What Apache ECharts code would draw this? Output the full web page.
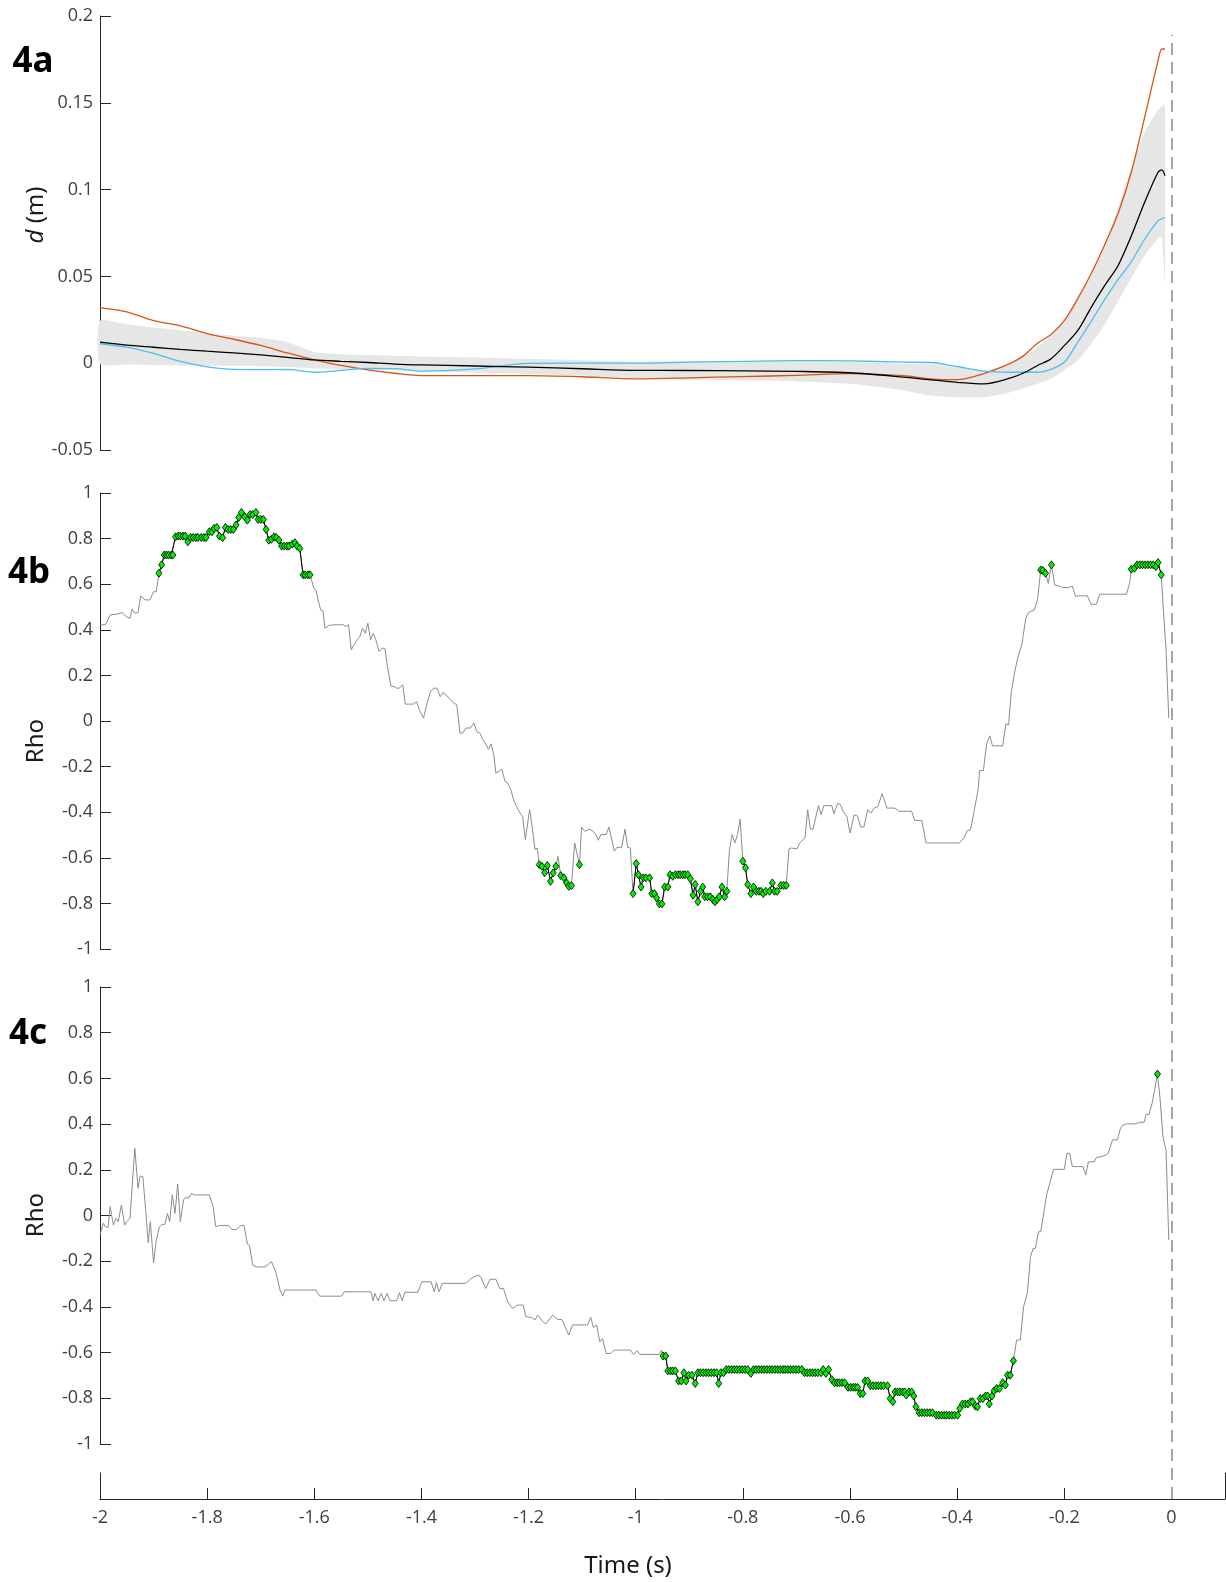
<!DOCTYPE html>
<html lang="en">
<head>
<meta charset="UTF-8">
<title>Figure 4</title>
<script src="https://cdn.jsdelivr.net/npm/echarts@6/dist/echarts.min.js"></script>
<style>
    html, body { margin: 0; padding: 0; background: #fff; }
    #chart { width: 1226px; height: 1582px; }
</style>
</head>
<body>
<div id="chart"></div>
<script>
// ---- 4a: distance d (m) ----
const timeA = [-2, -1.95, -1.9, -1.85, -1.8, -1.75, -1.7, -1.65, -1.6, -1.55, -1.5, -1.45, -1.4, -1.3, -1.2, -1.1, -1.0,
    -0.9, -0.8, -0.7, -0.6, -0.5, -0.45, -0.4, -0.35, -0.3, -0.275, -0.25, -0.225, -0.2, -0.175, -0.15, -0.125, -0.1, -0.075, -0.05, -0.025, -0.018, -0.012];
const dOrange = [0.032, 0.0295, 0.0245, 0.0215, 0.0171, 0.0138, 0.0102, 0.0059, 0.0019, -0.0013, -0.0039, -0.0058, -0.0071, -0.0071, -0.0071, -0.0078, -0.009,
    -0.0084, -0.0077, -0.007, -0.006, -0.0072, -0.009, -0.0095, -0.006, 0.0, 0.0045, 0.0115, 0.0165, 0.0245, 0.037, 0.0515, 0.068, 0.086, 0.11, 0.1416, 0.1743, 0.181, 0.181];
const dBlue = [0.0112, 0.0092, 0.0056, 0.001, -0.0021, -0.0036, -0.0037, -0.0036, -0.0052, -0.0041, -0.003, -0.0031, -0.0046, -0.0033, -0.0001, 0.0, 0.0,
    0.0006, 0.0011, 0.0015, 0.0013, 0.0006, 0.0004, -0.0019, -0.0046, -0.0052, -0.0052, -0.0052, -0.0035, 0.0005, 0.012, 0.024, 0.0365, 0.048, 0.0584, 0.0714, 0.0821, 0.0832, 0.0838];
const dMean = [0.0121, 0.0104, 0.0092, 0.008, 0.0069, 0.0059, 0.0048, 0.0034, 0.0019, 0.0011, 0.0004, -0.0005, -0.001, -0.0016, -0.0023, -0.0032, -0.0041,
    -0.0042, -0.0044, -0.0047, -0.0055, -0.008, -0.0096, -0.011, -0.0119, -0.0085, -0.0055, -0.0013, 0.0025, 0.0101, 0.0187, 0.032, 0.0445, 0.056, 0.0732, 0.0927, 0.11, 0.1114, 0.108];
const bandHigh = [0.0244, 0.0225, 0.0205, 0.019, 0.0172, 0.0158, 0.0146, 0.012, 0.0065, 0.0052, 0.0047, 0.0043, 0.0039, 0.0033, 0.0025, 0.0017, 0.0008,
    0.0012, 0.0012, 0.0011, 0.0009, -0.0003, -0.0006, -0.0024, -0.0042, -0.0003, 0.004, 0.0093, 0.016, 0.024, 0.039, 0.051, 0.068, 0.0893, 0.1125, 0.133, 0.146, 0.148, 0.149];
const bandLow = [-0.0004, -0.0008, -0.0012, -0.0014, -0.0015, -0.0016, -0.0017, -0.0022, -0.003, -0.0035, -0.0039, -0.0043, -0.0047, -0.0055, -0.0063, -0.0073, -0.0086,
    -0.0096, -0.01, -0.0105, -0.0119, -0.0157, -0.0186, -0.0196, -0.0196, -0.0167, -0.0145, -0.0119, -0.009, -0.004, 0.0015, 0.011, 0.022, 0.0355, 0.049, 0.062, 0.072, 0.0726, 0.046];

// ---- 4b: Rho [time, rho] ----
const rhoB = [
    [-2.000, 0.422], [-1.990, 0.422], [-1.981, 0.465], [-1.970, 0.468], [-1.959, 0.475], [-1.951, 0.458], [-1.944, 0.450], [-1.940, 0.490],
    [-1.935, 0.473], [-1.929, 0.475], [-1.924, 0.549], [-1.916, 0.531], [-1.907, 0.531], [-1.900, 0.567], [-1.895, 0.567],
    [-1.890, 0.648], [-1.885, 0.685], [-1.880, 0.728], [-1.876, 0.728], [-1.872, 0.728], [-1.867, 0.728], [-1.864, 0.728], [-1.859, 0.808],
    [-1.854, 0.811], [-1.850, 0.811], [-1.845, 0.811], [-1.841, 0.811], [-1.836, 0.786], [-1.831, 0.805], [-1.826, 0.805], [-1.821, 0.805],
    [-1.817, 0.805], [-1.811, 0.805], [-1.806, 0.805], [-1.802, 0.805], [-1.796, 0.830], [-1.791, 0.830], [-1.787, 0.845], [-1.782, 0.849],
    [-1.777, 0.811], [-1.771, 0.804], [-1.766, 0.849], [-1.761, 0.840], [-1.756, 0.840], [-1.751, 0.840], [-1.746, 0.860], [-1.741, 0.893],
    [-1.736, 0.915], [-1.730, 0.896], [-1.725, 0.881], [-1.720, 0.906], [-1.715, 0.906], [-1.709, 0.915], [-1.705, 0.884], [-1.700, 0.884],
    [-1.695, 0.884], [-1.690, 0.840], [-1.685, 0.793], [-1.680, 0.797], [-1.675, 0.808], [-1.671, 0.805], [-1.666, 0.793], [-1.661, 0.767],
    [-1.656, 0.767], [-1.651, 0.767], [-1.647, 0.767], [-1.641, 0.776], [-1.636, 0.782], [-1.632, 0.767], [-1.627, 0.757], [-1.621, 0.641],
    [-1.617, 0.641], [-1.612, 0.641], [-1.608, 0.641],
    [-1.605, 0.618], [-1.601, 0.582], [-1.597, 0.575], [-1.593, 0.531], [-1.588, 0.487], [-1.584, 0.484], [-1.580, 0.407], [-1.573, 0.419],
    [-1.564, 0.422], [-1.546, 0.422], [-1.541, 0.414], [-1.536, 0.422], [-1.531, 0.312], [-1.526, 0.334], [-1.520, 0.356], [-1.515, 0.370],
    [-1.510, 0.407], [-1.505, 0.385], [-1.500, 0.429], [-1.495, 0.356], [-1.490, 0.385], [-1.485, 0.356], [-1.479, 0.305], [-1.474, 0.319],
    [-1.468, 0.319], [-1.464, 0.246], [-1.457, 0.154], [-1.451, 0.151], [-1.446, 0.144], [-1.441, 0.144], [-1.435, 0.159], [-1.430, 0.074],
    [-1.424, 0.074], [-1.415, 0.074], [-1.409, 0.085], [-1.404, 0.049], [-1.396, 0.013], [-1.391, 0.064], [-1.383, 0.130], [-1.377, 0.144],
    [-1.371, 0.144], [-1.365, 0.107], [-1.360, 0.125], [-1.354, 0.115], [-1.346, 0.093], [-1.339, 0.078], [-1.334, 0.071], [-1.328, -0.053],
    [-1.323, -0.053], [-1.317, -0.031], [-1.309, -0.031], [-1.302, -0.009], [-1.297, -0.046], [-1.291, -0.053], [-1.286, -0.080], [-1.280, -0.100],
    [-1.275, -0.124], [-1.270, -0.100], [-1.265, -0.148], [-1.261, -0.228], [-1.255, -0.221], [-1.250, -0.211], [-1.244, -0.265], [-1.239, -0.272],
    [-1.233, -0.302], [-1.228, -0.345], [-1.222, -0.377], [-1.216, -0.404], [-1.211, -0.419], [-1.206, -0.520], [-1.198, -0.388], [-1.193, -0.469],
    [-1.188, -0.564], [-1.184, -0.557],
    [-1.180, -0.630], [-1.175, -0.637], [-1.170, -0.666], [-1.165, -0.634], [-1.159, -0.703], [-1.154, -0.666], [-1.149, -0.637],
    [-1.145, -0.594], [-1.140, -0.678], [-1.134, -0.688], [-1.129, -0.710], [-1.125, -0.725], [-1.120, -0.722], [-1.114, -0.535],
    [-1.105, -0.630], [-1.101, -0.465], [-1.095, -0.484],
    [-1.086, -0.474], [-1.080, -0.484], [-1.074, -0.498], [-1.070, -0.523], [-1.065, -0.498], [-1.055, -0.498], [-1.050, -0.465], [-1.044, -0.527],
    [-1.040, -0.571], [-1.035, -0.554], [-1.026, -0.554], [-1.020, -0.474], [-1.015, -0.554], [-1.010, -0.557],
    [-1.005, -0.757], [-0.999, -0.625], [-0.995, -0.674], [-0.990, -0.728], [-0.986, -0.688], [-0.981, -0.688], [-0.974, -0.688], [-0.970, -0.757],
    [-0.965, -0.757], [-0.961, -0.776], [-0.956, -0.802], [-0.951, -0.802], [-0.946, -0.728], [-0.940, -0.728], [-0.936, -0.674], [-0.931, -0.681],
    [-0.926, -0.674], [-0.921, -0.674], [-0.917, -0.674], [-0.912, -0.674], [-0.908, -0.674], [-0.903, -0.674], [-0.898, -0.692], [-0.893, -0.764],
    [-0.889, -0.717], [-0.884, -0.793], [-0.879, -0.747], [-0.875, -0.728], [-0.871, -0.771], [-0.866, -0.771], [-0.861, -0.771], [-0.856, -0.783],
    [-0.852, -0.793], [-0.848, -0.783], [-0.844, -0.771], [-0.839, -0.728], [-0.834, -0.771], [-0.830, -0.747],
    [-0.825, -0.564], [-0.820, -0.498], [-0.815, -0.535], [-0.810, -0.498], [-0.805, -0.430],
    [-0.800, -0.615], [-0.795, -0.644], [-0.791, -0.717], [-0.785, -0.757], [-0.780, -0.728], [-0.775, -0.747], [-0.770, -0.747], [-0.766, -0.747],
    [-0.762, -0.757], [-0.757, -0.747], [-0.750, -0.747], [-0.745, -0.710], [-0.741, -0.747], [-0.736, -0.747], [-0.729, -0.721], [-0.724, -0.721],
    [-0.719, -0.721],
    [-0.714, -0.561], [-0.709, -0.557], [-0.699, -0.561], [-0.694, -0.535], [-0.684, -0.513], [-0.679, -0.389], [-0.674, -0.474], [-0.669, -0.474],
    [-0.659, -0.371], [-0.654, -0.411], [-0.649, -0.371], [-0.634, -0.371], [-0.630, -0.406], [-0.623, -0.362], [-0.618, -0.366], [-0.612, -0.402],
    [-0.606, -0.417], [-0.600, -0.491], [-0.592, -0.411], [-0.586, -0.417], [-0.580, -0.465], [-0.574, -0.465], [-0.567, -0.389], [-0.561, -0.404],
    [-0.555, -0.382], [-0.548, -0.375], [-0.540, -0.319], [-0.531, -0.382], [-0.516, -0.382], [-0.509, -0.396], [-0.485, -0.396], [-0.479, -0.436],
    [-0.466, -0.436], [-0.458, -0.535], [-0.396, -0.535], [-0.386, -0.509], [-0.381, -0.480], [-0.375, -0.477], [-0.369, -0.404], [-0.361, -0.302],
    [-0.358, -0.217], [-0.351, -0.217], [-0.345, -0.100], [-0.339, -0.065], [-0.334, -0.109], [-0.315, -0.109], [-0.309, -0.012], [-0.304, -0.017],
    [-0.299, 0.125], [-0.293, 0.210], [-0.287, 0.276], [-0.279, 0.338], [-0.272, 0.451], [-0.267, 0.475], [-0.256, 0.487], [-0.250, 0.531],
    [-0.244, 0.662], [-0.240, 0.660], [-0.235, 0.648], [-0.230, 0.604], [-0.224, 0.685],
    [-0.218, 0.597], [-0.209, 0.592], [-0.203, 0.585], [-0.192, 0.585], [-0.185, 0.592], [-0.179, 0.546], [-0.174, 0.549], [-0.157, 0.549],
    [-0.150, 0.512], [-0.140, 0.512], [-0.134, 0.556], [-0.084, 0.556], [-0.078, 0.604],
    [-0.075, 0.666], [-0.069, 0.670], [-0.064, 0.685], [-0.059, 0.685], [-0.054, 0.685], [-0.049, 0.685], [-0.044, 0.685], [-0.039, 0.685],
    [-0.034, 0.685], [-0.029, 0.677], [-0.025, 0.695], [-0.019, 0.641],
    [-0.015, 0.487], [-0.010, 0.312], [-0.005, 0.013]
];
// time windows where rho is significant (green markers)
const sigB = [[-1.890, -1.608], [-1.180, -1.149], [-1.140, -1.120], [-1.105, -1.105], [-1.005, -0.830],
    [-0.800, -0.719], [-0.244, -0.235], [-0.224, -0.224], [-0.075, -0.019]];

// ---- 4c: Rho [time, rho] ----
const rhoC = [
    [-2.000, -0.085], [-1.994, -0.034], [-1.990, -0.049], [-1.985, -0.052], [-1.981, 0.039], [-1.975, -0.042], [-1.970, -0.012], [-1.966, -0.027],
    [-1.960, 0.046], [-1.954, -0.042], [-1.950, -0.027], [-1.944, -0.012], [-1.935, 0.294], [-1.929, 0.119], [-1.925, 0.173], [-1.920, 0.170],
    [-1.915, 0.031], [-1.910, -0.119], [-1.906, -0.027], [-1.900, -0.207], [-1.895, -0.107], [-1.889, -0.049], [-1.884, -0.039], [-1.879, -0.039],
    [-1.874, 0.009], [-1.870, -0.027], [-1.865, 0.090], [-1.860, 0.009], [-1.855, 0.138], [-1.850, -0.027], [-1.844, 0.070], [-1.839, 0.080],
    [-1.835, 0.075], [-1.829, 0.097], [-1.824, 0.090], [-1.796, 0.090], [-1.789, 0.041], [-1.784, -0.049], [-1.778, -0.044], [-1.760, -0.044],
    [-1.754, -0.061], [-1.745, -0.061], [-1.737, -0.044], [-1.731, -0.044], [-1.725, -0.125], [-1.721, -0.130], [-1.715, -0.217], [-1.708, -0.225],
    [-1.692, -0.225], [-1.680, -0.202], [-1.673, -0.239], [-1.669, -0.275], [-1.664, -0.326], [-1.659, -0.353], [-1.655, -0.326], [-1.597, -0.326],
    [-1.590, -0.353], [-1.549, -0.353], [-1.544, -0.334], [-1.494, -0.334], [-1.490, -0.373], [-1.487, -0.341], [-1.481, -0.373], [-1.475, -0.341],
    [-1.470, -0.373], [-1.464, -0.341], [-1.459, -0.373], [-1.446, -0.373], [-1.441, -0.338], [-1.436, -0.373], [-1.431, -0.336], [-1.407, -0.336],
    [-1.399, -0.290], [-1.382, -0.290], [-1.376, -0.334], [-1.372, -0.293], [-1.367, -0.334], [-1.361, -0.297], [-1.317, -0.297], [-1.309, -0.279],
    [-1.302, -0.268], [-1.293, -0.260], [-1.289, -0.271], [-1.280, -0.319], [-1.272, -0.279], [-1.261, -0.279], [-1.254, -0.319], [-1.247, -0.319],
    [-1.239, -0.377], [-1.230, -0.407], [-1.221, -0.392], [-1.210, -0.392], [-1.205, -0.443], [-1.195, -0.446], [-1.188, -0.457], [-1.183, -0.436],
    [-1.175, -0.460], [-1.168, -0.475], [-1.160, -0.450], [-1.155, -0.436], [-1.146, -0.455], [-1.138, -0.455], [-1.125, -0.523], [-1.118, -0.479],
    [-1.090, -0.479], [-1.084, -0.446], [-1.079, -0.490], [-1.073, -0.479], [-1.067, -0.553], [-1.062, -0.539], [-1.055, -0.604], [-1.047, -0.604],
    [-1.040, -0.589], [-1.010, -0.589], [-1.004, -0.608], [-0.997, -0.592], [-0.992, -0.608], [-0.956, -0.608], [-0.952, -0.589],
    [-0.949, -0.615], [-0.944, -0.615], [-0.940, -0.680], [-0.935, -0.680], [-0.931, -0.680], [-0.926, -0.680], [-0.920, -0.724], [-0.915, -0.724],
    [-0.910, -0.688], [-0.906, -0.724], [-0.901, -0.699], [-0.895, -0.699], [-0.889, -0.735], [-0.884, -0.688], [-0.879, -0.688], [-0.874, -0.688],
    [-0.869, -0.688], [-0.864, -0.688], [-0.859, -0.688], [-0.854, -0.688], [-0.849, -0.688], [-0.845, -0.735], [-0.841, -0.688], [-0.836, -0.688],
    [-0.831, -0.674], [-0.826, -0.674], [-0.821, -0.674], [-0.816, -0.674], [-0.811, -0.674], [-0.806, -0.674], [-0.801, -0.674], [-0.796, -0.674],
    [-0.791, -0.674], [-0.785, -0.691], [-0.780, -0.674], [-0.775, -0.674], [-0.770, -0.674], [-0.765, -0.674], [-0.760, -0.674], [-0.755, -0.674],
    [-0.750, -0.674], [-0.745, -0.674], [-0.740, -0.674], [-0.735, -0.674], [-0.730, -0.674], [-0.725, -0.674], [-0.721, -0.674], [-0.716, -0.674],
    [-0.711, -0.674], [-0.706, -0.674], [-0.701, -0.674], [-0.696, -0.674], [-0.690, -0.674], [-0.685, -0.688], [-0.680, -0.688], [-0.675, -0.688],
    [-0.670, -0.688], [-0.665, -0.688], [-0.660, -0.688], [-0.654, -0.688], [-0.650, -0.674], [-0.645, -0.691], [-0.640, -0.674], [-0.634, -0.718],
    [-0.629, -0.732], [-0.624, -0.732], [-0.620, -0.732], [-0.615, -0.732], [-0.610, -0.732], [-0.604, -0.752], [-0.599, -0.752], [-0.594, -0.752],
    [-0.590, -0.752], [-0.586, -0.752], [-0.581, -0.779], [-0.576, -0.779], [-0.572, -0.724], [-0.567, -0.724], [-0.562, -0.745], [-0.557, -0.745],
    [-0.552, -0.745], [-0.547, -0.745], [-0.542, -0.745], [-0.537, -0.745], [-0.530, -0.745], [-0.525, -0.801], [-0.520, -0.815], [-0.516, -0.772],
    [-0.511, -0.772], [-0.507, -0.772], [-0.502, -0.772], [-0.498, -0.772], [-0.495, -0.786], [-0.490, -0.772], [-0.485, -0.772], [-0.481, -0.790],
    [-0.477, -0.837], [-0.471, -0.863], [-0.466, -0.863], [-0.461, -0.863], [-0.456, -0.863], [-0.451, -0.863], [-0.446, -0.863], [-0.439, -0.874],
    [-0.434, -0.874], [-0.429, -0.874], [-0.424, -0.874], [-0.420, -0.874], [-0.415, -0.874], [-0.410, -0.874], [-0.405, -0.874], [-0.399, -0.874],
    [-0.395, -0.844], [-0.390, -0.825], [-0.385, -0.825], [-0.380, -0.825], [-0.375, -0.815], [-0.371, -0.815], [-0.366, -0.834], [-0.362, -0.837],
    [-0.357, -0.801], [-0.352, -0.801], [-0.347, -0.790], [-0.343, -0.790], [-0.340, -0.825], [-0.335, -0.790], [-0.331, -0.767], [-0.326, -0.757],
    [-0.321, -0.757], [-0.315, -0.732], [-0.310, -0.742], [-0.306, -0.699], [-0.301, -0.699], [-0.295, -0.636],
    [-0.289, -0.545], [-0.282, -0.545], [-0.276, -0.399], [-0.269, -0.341], [-0.263, -0.180], [-0.258, -0.144], [-0.254, -0.144], [-0.248, -0.071],
    [-0.244, -0.071], [-0.239, 0.002], [-0.233, 0.090], [-0.230, 0.097], [-0.220, 0.202], [-0.200, 0.202], [-0.195, 0.272], [-0.190, 0.272],
    [-0.185, 0.214], [-0.165, 0.214], [-0.160, 0.177], [-0.155, 0.235], [-0.144, 0.235], [-0.140, 0.254], [-0.130, 0.258], [-0.123, 0.265],
    [-0.118, 0.272], [-0.110, 0.331], [-0.101, 0.331], [-0.095, 0.382], [-0.090, 0.396], [-0.084, 0.401], [-0.066, 0.401], [-0.060, 0.408],
    [-0.051, 0.408], [-0.047, 0.444], [-0.042, 0.440], [-0.036, 0.491], [-0.026, 0.619], [-0.021, 0.506], [-0.016, 0.348], [-0.010, 0.284],
    [-0.005, -0.107]
];
const sigC = [[-0.949, -0.295], [-0.026, -0.026]];

const xTickStep = 0.2;

function inWindows(t, windows) {
    return windows.some(w => t >= w[0] - 1e-9 && t <= w[1] + 1e-9);
}
function sigSeriesData(points, windows) {
    return points.map(p => inWindows(p[0], windows) ? [p[0], p[1]] : [p[0], null]);
}
const pairs = (xs, ys) => xs.map((x, i) => [x, ys[i]]);

const axisColor = '#262626';
const tickLabel = { fontFamily: 'Open Sans', fontSize: 18, color: '#404040' };

function panelY(grid, min, max, interval) {
    return {
        gridIndex: grid, type: 'value', min: min, max: max, interval: interval,
        axisLine: { show: true, onZero: false, lineStyle: { color: axisColor, width: 1 } },
        axisTick: { show: true, inside: true, length: 11, lineStyle: { color: axisColor } },
        axisLabel: Object.assign({ margin: 7 }, tickLabel),
        splitLine: { show: false }
    };
}
function hiddenX(grid) {
    return { gridIndex: grid, type: 'value', min: -2, max: 0.1, show: false };
}
function rhoSeries(idx, points, windows) {
    return [{
        type: 'line', xAxisIndex: idx, yAxisIndex: idx, data: points,
        showSymbol: false, lineStyle: { color: '#8c8c8c', width: 1 }, z: 2
    }, {
        type: 'line', xAxisIndex: idx, yAxisIndex: idx, data: sigSeriesData(points, windows),
        connectNulls: false, showAllSymbol: true,
        symbol: 'diamond', symbolSize: [6, 8],
        itemStyle: { color: '#00ee00', borderColor: '#000', borderWidth: 0.8 },
        lineStyle: { color: '#000', width: 1 }, z: 3
    }];
}
function dLine(values, color, z) {
    return {
        type: 'line', xAxisIndex: 0, yAxisIndex: 0, data: pairs(timeA, values), showSymbol: false,
        smooth: 0.3, lineStyle: { color: color, width: 1.3 }, z: z
    };
}

const chart = echarts.init(document.getElementById('chart'), null, { renderer: 'canvas' });
chart.setOption({
    animation: false,
    backgroundColor: '#fff',
    grid: [
        { left: 100, right: 1, top: 16, height: 434 },
        { left: 100, right: 1, top: 493, height: 456 },
        { left: 100, right: 1, top: 987, height: 457 },
        { left: 100, right: 1, top: 1473, height: 26 },
        { left: 100, right: 1, top: 35, height: 1464 }
    ],
    xAxis: [
        hiddenX(0), hiddenX(1), hiddenX(2),
        {
            gridIndex: 3, type: 'value', min: -2, max: 0.1, interval: xTickStep, position: 'bottom',
            axisLine: { show: true, onZero: false, lineStyle: { color: axisColor, width: 1 } },
            axisTick: { show: true, inside: true, length: 11, lineStyle: { color: axisColor } },
            axisLabel: Object.assign({ margin: 10, showMaxLabel: false }, tickLabel),
            splitLine: { show: false }
        },
        hiddenX(4)
    ],
    yAxis: [
        panelY(0, -0.05, 0.2, 0.05),
        panelY(1, -1, 1, 0.2),
        panelY(2, -1, 1, 0.2),
        {
            gridIndex: 3, type: 'value', min: 0, max: 1, position: 'left',
            axisLine: { show: true, onZero: false, lineStyle: { color: axisColor } },
            axisTick: { show: false }, axisLabel: { show: false }, splitLine: { show: false }
        },
        {
            gridIndex: 3, type: 'value', min: 0, max: 1, position: 'right',
            axisLine: { show: true, onZero: false, lineStyle: { color: axisColor } },
            axisTick: { show: false }, axisLabel: { show: false }, splitLine: { show: false }
        },
        { gridIndex: 4, type: 'value', min: 0, max: 1, show: false }
    ],
    series: [
        {
            // spread band around the mean
            type: 'custom', xAxisIndex: 0, yAxisIndex: 0, z: 1, silent: true,
            data: [[timeA[0], bandLow[0]]],
            renderItem: function (params, api) {
                const pts = [];
                for (let i = 0; i < timeA.length; i++) pts.push(api.coord([timeA[i], bandHigh[i]]));
                for (let i = timeA.length - 1; i >= 0; i--) pts.push(api.coord([timeA[i], bandLow[i]]));
                return { type: 'polygon', shape: { points: pts, smooth: 0.2 }, style: { fill: '#e6e6e6' } };
            }
        },
        dLine(dOrange, '#D95319', 2),
        dLine(dBlue, '#4DBEEE', 2),
        dLine(dMean, '#000000', 3),
        ...rhoSeries(1, rhoB, sigB),
        ...rhoSeries(2, rhoC, sigC),
        { type: 'line', xAxisIndex: 3, yAxisIndex: 3, data: [] },
        {
            type: 'line', xAxisIndex: 4, yAxisIndex: 5, data: [], z: 5,
            markLine: {
                silent: true, symbol: ['none', 'none'], label: { show: false },
                lineStyle: { color: '#a6a6a6', width: 2, type: [12, 7] },
                data: [{ xAxis: 0 }]
            }
        }
    ],
    graphic: [
        { type: 'text', x: 33, y: 62, style: { text: '4a', font: 'bold 35px "Noto Sans"', fill: '#000', align: 'center', verticalAlign: 'middle' } },
        { type: 'text', x: 29, y: 573, style: { text: '4b', font: 'bold 35px "Noto Sans"', fill: '#000', align: 'center', verticalAlign: 'middle' } },
        { type: 'text', x: 28, y: 1034, style: { text: '4c', font: 'bold 35px "Noto Sans"', fill: '#000', align: 'center', verticalAlign: 'middle' } },
        {
            type: 'text', x: 36, y: 215, rotation: Math.PI / 2,
            style: {
                text: '{i|d} (m)', font: '24px "Noto Sans"', fill: '#1a1a1a', align: 'center', verticalAlign: 'middle',
                rich: { i: { fontStyle: 'italic', fontSize: 24, fontFamily: 'Noto Sans', fill: '#1a1a1a' } }
            }
        },
        { type: 'text', x: 36, y: 741, rotation: Math.PI / 2, style: { text: 'Rho', font: '24px "Noto Sans"', fill: '#1a1a1a', align: 'center', verticalAlign: 'middle' } },
        { type: 'text', x: 36, y: 1215, rotation: Math.PI / 2, style: { text: 'Rho', font: '24px "Noto Sans"', fill: '#1a1a1a', align: 'center', verticalAlign: 'middle' } },
        { type: 'text', x: 628, y: 1566, style: { text: 'Time (s)', font: '24px "Noto Sans"', fill: '#1a1a1a', align: 'center', verticalAlign: 'middle' } }
    ]
});
window.addEventListener('resize', function () { chart.resize(); });
</script>
</body>
</html>
